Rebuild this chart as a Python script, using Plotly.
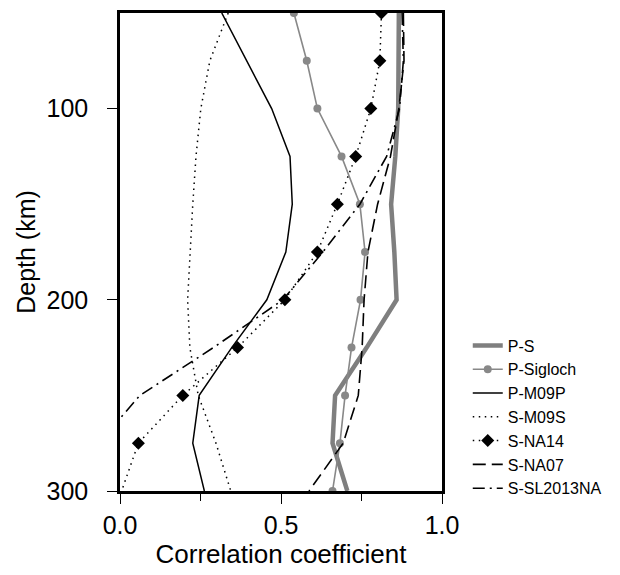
import plotly.graph_objects as go

depth = [50, 75, 100, 125, 150, 175, 200, 225, 250, 275, 300]

p_s        = [0.866, 0.866, 0.864, 0.855, 0.842, 0.852, 0.859, 0.766, 0.668, 0.660, 0.706]
p_sigloch  = [0.540, 0.580, 0.613, 0.688, 0.745, 0.761, 0.747, 0.719, 0.699, 0.683, 0.660]
p_m09p     = [0.316, 0.394, 0.471, 0.528, 0.535, 0.515, 0.456, 0.347, 0.246, 0.226, 0.262]
s_m09s     = [0.336, 0.279, 0.251, 0.236, 0.226, 0.217, 0.210, 0.217, 0.243, 0.298, 0.344]
s_na14     = [0.812, 0.807, 0.779, 0.732, 0.675, 0.613, 0.512, 0.365, 0.195, 0.057, 0.005]
s_na07     = [0.880, 0.882, 0.866, 0.840, 0.800, 0.770, 0.758, 0.752, 0.740, 0.693, 0.587]
s_sl2013na = [0.876, 0.880, 0.868, 0.828, 0.745, 0.630, 0.506, 0.290, 0.062, -0.067, -0.150]

x_ticks = [0, 0.5, 1.0]
x_tick_labels = ["0.0", "0.5", "1.0"]
y_ticks = [100, 200, 300]
y_tick_labels = ["100", "200", "300"]

FONT = "Liberation Sans, Arial, Helvetica, sans-serif"

# diamonds are drawn at every depth except the last one
na14_marker_colors = ["black"] * (len(depth) - 1) + ["rgba(0,0,0,0)"]

fig = go.Figure()
fig.add_trace(go.Scatter(x=p_s, y=depth, name="P-S", mode="lines",
                         line=dict(color="#7f7f7f", width=4.5)))
fig.add_trace(go.Scatter(x=p_sigloch, y=depth, name="P-Sigloch", mode="lines+markers",
                         line=dict(color="#888888", width=1.6),
                         marker=dict(symbol="circle", size=8, color="#888888")))
fig.add_trace(go.Scatter(x=p_m09p, y=depth, name="P-M09P", mode="lines",
                         line=dict(color="black", width=1.5)))
fig.add_trace(go.Scatter(x=s_m09s, y=depth, name="S-M09S", mode="lines",
                         line=dict(color="black", width=1.5, dash="1.5px,4.5px")))
fig.add_trace(go.Scatter(x=s_na14, y=depth, name="S-NA14", mode="lines+markers",
                         line=dict(color="black", width=1.5, dash="1.5px,4.5px"),
                         marker=dict(symbol="diamond", size=10, color=na14_marker_colors,
                                     line=dict(width=0))))
fig.add_trace(go.Scatter(x=s_na07, y=depth, name="S-NA07", mode="lines",
                         line=dict(color="black", width=1.6, dash="13px,6px")))
fig.add_trace(go.Scatter(x=s_sl2013na, y=depth, name="S-SL2013NA", mode="lines",
                         line=dict(color="black", width=1.6, dash="12px,5px,2px,5px")))

fig.update_layout(
    width=620, height=575,
    margin=dict(l=120, r=178, t=10, b=82),
    paper_bgcolor="white", plot_bgcolor="white",
    font=dict(family=FONT, color="black", size=25),
    showlegend=True,
    legend=dict(x=1.08, xanchor="left", y=0.34, yanchor="top",
                font=dict(size=16, family=FONT), bgcolor="rgba(0,0,0,0)",
                itemwidth=30, tracegroupgap=0),
)
fig.update_xaxes(range=[0, 1], tickvals=x_ticks, ticktext=x_tick_labels,
                 ticks="outside", ticklen=10, tickwidth=1.2, tickcolor="black",
                 minor=dict(tickvals=[0.25, 0.75], ticks="outside", ticklen=7,
                            tickwidth=1.2, tickcolor="black"),
                 showline=True, linewidth=2.5, linecolor="black", mirror=True,
                 showgrid=False, zeroline=False,
                 tickfont=dict(size=25),
                 title=dict(text="Correlation coefficient", font=dict(size=26), standoff=8))
fig.update_yaxes(range=[300, 50], tickvals=y_ticks, ticktext=y_tick_labels,
                 ticks="outside", ticklen=10, tickwidth=1.2, tickcolor="black",
                 ticklabelstandoff=14,
                 showline=True, linewidth=2.5, linecolor="black", mirror=True,
                 showgrid=False, zeroline=False,
                 tickfont=dict(size=25),
                 title=dict(text="Depth (km)", font=dict(size=25), standoff=4))

fig.write_html("out.html")
